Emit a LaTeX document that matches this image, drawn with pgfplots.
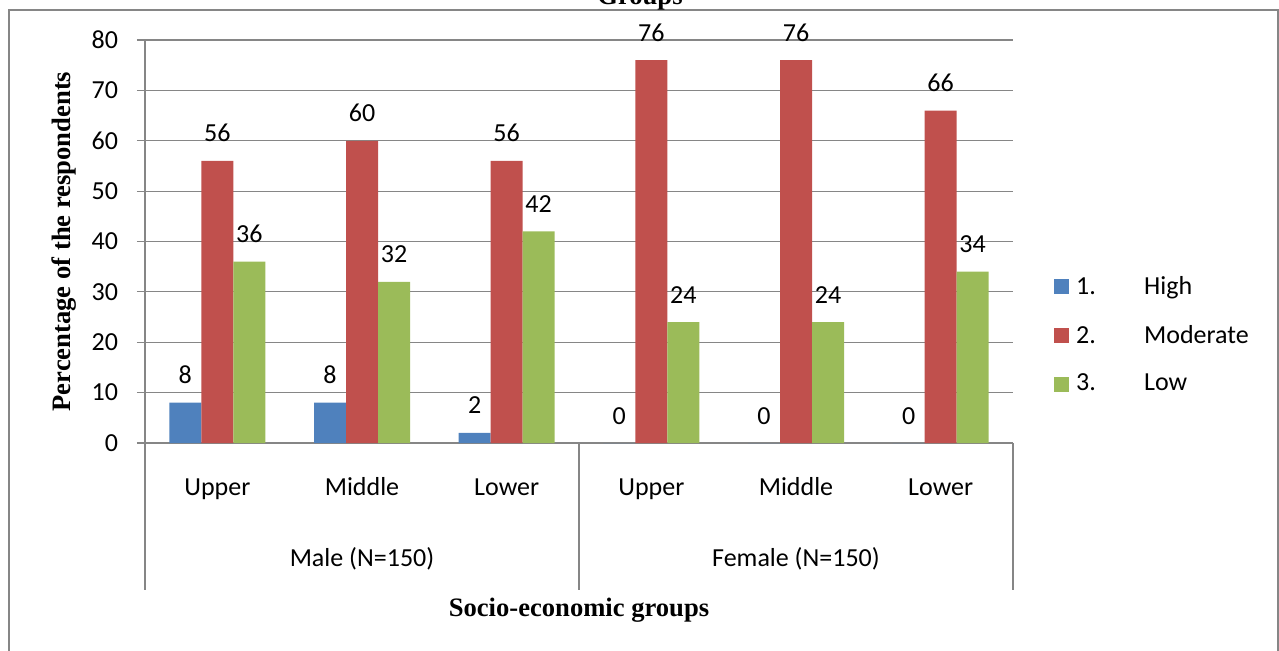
\documentclass[border=0pt]{standalone}
\usepackage{fontspec}
\setmainfont{Carlito}
\newfontfamily\timesf{Liberation Serif}
\usepackage{pgfplots}
\pgfplotsset{compat=1.18}
\definecolor{cblue}{RGB}{79,129,189}
\definecolor{cred}{RGB}{192,80,77}
\definecolor{cgreen}{RGB}{155,187,89}
\definecolor{cgrid}{RGB}{134,134,134}
\begin{document}
\begin{tikzpicture}
\useasboundingbox (0pt,0pt) rectangle (639.5pt,325pt);
\draw[cgrid, line width=1pt] (4.25pt,-5pt) -- (4.25pt,320pt) -- (639pt,320pt) -- (639pt,-5pt);
\node[anchor=base, font=\timesf\bfseries\fontsize{13.3}{15}\selectfont, inner sep=0pt] at (320pt,323pt) {Groups};
\begin{axis}[
  at={(72.5pt,103.5pt)}, anchor=south west,
  scale only axis, width=434pt, height=201.5pt,
  ybar=0pt, bar width=16pt,
  xmin=-0.5, xmax=5.5, ymin=0, ymax=80,
  ytick={0,10,...,80},
  xtick={0,1,2,3,4,5},
  xticklabels={Upper,Middle,Lower,Upper,Middle,Lower},
  xtick style={draw=none},
  ytick style={cgrid, line width=0.6pt},
  tick align=outside, major tick length=4pt,
  axis x line*=bottom, axis y line*=left,
  axis line style={cgrid, line width=0.6pt},
  ymajorgrids, grid style={cgrid, line width=0.6pt},
  /pgf/number format/assume math mode=true,
  tick label style={font=\fontsize{13}{15}\selectfont},
  xticklabel style={anchor=base, yshift=-22pt},
  yticklabel style={xshift=-6pt},
  xlabel={Socio-economic groups},
  ylabel={Percentage of the respondents},
  label style={font=\timesf\bfseries\fontsize{13.3}{15}\selectfont},
  xlabel style={at={(axis description cs:0.5,0)}, anchor=center, yshift=-83.5pt},
  ylabel style={at={(axis description cs:-0.0935,0.5)}, anchor=center},
  nodes near coords,
  every node near coord/.append style={font=\fontsize{13}{15}\selectfont, anchor=base, yshift=9.5pt, text=black},
  clip=false,
  legend style={at={(axis description cs:1.040,0.268)}, anchor=west, draw=none, fill=none,
    font=\fontsize{13}{15}\selectfont, row sep=10pt},
  legend cell align=left,
  legend image code/.code={\fill[#1] (0pt,-3.75pt) rectangle (7.5pt,3.75pt);},
]
\addplot[fill=cblue, draw=none] coordinates {(0,8) (1,8) (2,2) (3,0) (4,0) (5,0)};
\addplot[fill=cred, draw=none] coordinates {(0,56) (1,60) (2,56) (3,76) (4,76) (5,66)};
\addplot[fill=cgreen, draw=none] coordinates {(0,36) (1,32) (2,42) (3,24) (4,24) (5,34)};
\legend{\hspace{1.5pt}\makebox[34pt][l]{1.}High, \hspace{1.5pt}\makebox[34pt][l]{2.}Moderate, \hspace{1.5pt}\makebox[34pt][l]{3.}Low}
\draw[cgrid, line width=0.6pt] (axis cs:-0.5,0) -- ++(0pt,-73.5pt);
\draw[cgrid, line width=0.6pt] (axis cs:2.5,0) -- ++(0pt,-73.5pt);
\draw[cgrid, line width=0.6pt] (axis cs:5.5,0) -- ++(0pt,-73.5pt);
\node[anchor=base, font=\fontsize{13}{15}\selectfont] at (axis cs:1,0) [yshift=-61.5pt] {Male (N=150)};
\node[anchor=base, font=\fontsize{13}{15}\selectfont] at (axis cs:4,0) [yshift=-61.5pt] {Female (N=150)};
\end{axis}
\end{tikzpicture}
\end{document}
